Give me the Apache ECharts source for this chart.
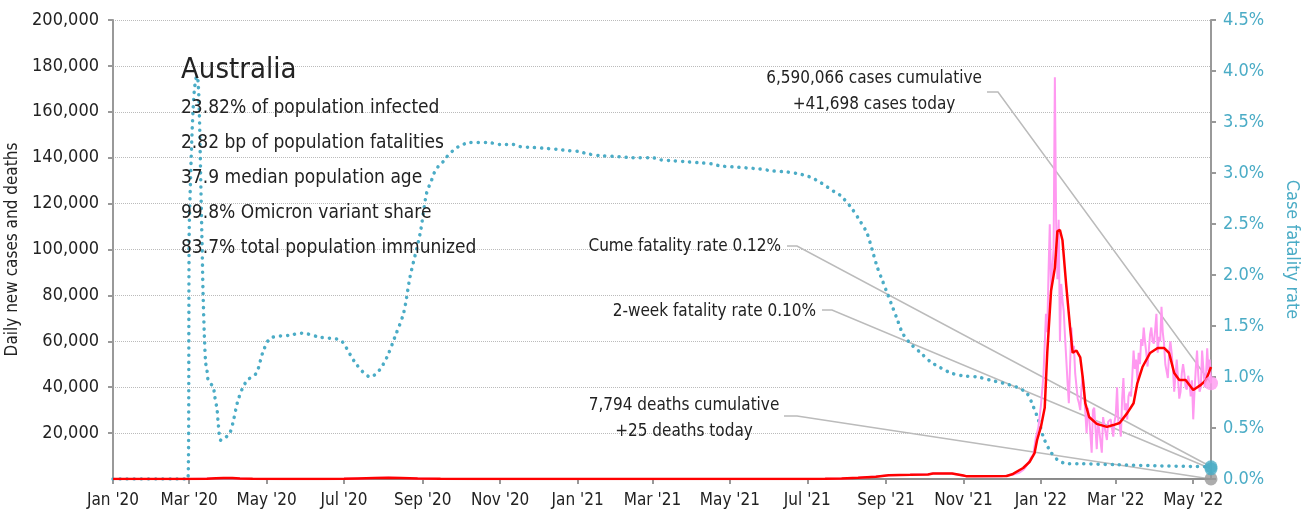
<!DOCTYPE html>
<html>
<head>
<meta charset="utf-8">
<script src="https://cdn.jsdelivr.net/npm/echarts@6/dist/echarts.min.js"></script>
<style>
  html, body { margin: 0; padding: 0; background: #fff; }
  #box { width: 1306px; height: 518px; }
</style>
</head>
<body>
<div id="box"></div>
<script>
// readings, [date, value]
var casesDaily = [
  ['2020-01-01', 0], ['2020-03-01', 5], ['2020-03-15', 200], ['2020-03-22', 380], ['2020-03-28', 450],
  ['2020-04-04', 380], ['2020-04-10', 230], ['2020-04-20', 50], ['2020-05-15', 15], ['2020-06-15', 15],
  ['2020-07-01', 70], ['2020-07-12', 270], ['2020-07-25', 480], ['2020-08-05', 520], ['2020-08-15', 400],
  ['2020-08-28', 180], ['2020-09-15', 50], ['2020-10-15', 15], ['2021-01-01', 20], ['2021-04-01', 10],
  ['2021-06-25', 25], ['2021-07-15', 110], ['2021-07-28', 260], ['2021-08-10', 520], ['2021-08-24', 1050],
  ['2021-09-03', 1650], ['2021-09-20', 1850], ['2021-10-04', 2050], ['2021-10-08', 2450], ['2021-10-23', 2350],
  ['2021-11-01', 1450], ['2021-11-10', 1250], ['2021-12-01', 1250], ['2021-12-06', 1500], ['2021-12-10', 1900],
  ['2021-12-15', 2700], ['2021-12-18', 3900], ['2021-12-20', 5200], ['2021-12-22', 6900], ['2021-12-24', 9200],
  ['2021-12-26', 10500], ['2021-12-28', 18000], ['2021-12-30', 22500], ['2022-01-01', 32000], ['2022-01-03', 45000],
  ['2022-01-05', 72000], ['2022-01-06', 64000], ['2022-01-07', 90000], ['2022-01-08', 111000], ['2022-01-09', 82000],
  ['2022-01-10', 92000], ['2022-01-11', 100000], ['2022-01-12', 175000], ['2022-01-13', 112000], ['2022-01-14', 87000],
  ['2022-01-15', 113000], ['2022-01-16', 60000], ['2022-01-17', 85000], ['2022-01-18', 78000], ['2022-01-19', 73000],
  ['2022-01-20', 62000], ['2022-01-21', 52000], ['2022-01-22', 42000], ['2022-01-23', 33000], ['2022-01-24', 50000],
  ['2022-01-25', 66000], ['2022-01-26', 57000], ['2022-01-27', 58000], ['2022-01-28', 46000], ['2022-01-29', 46000],
  ['2022-01-30', 35000], ['2022-01-31', 33000], ['2022-02-01', 30000], ['2022-02-02', 40000], ['2022-02-03', 45000],
  ['2022-02-04', 38000], ['2022-02-06', 20000], ['2022-02-07', 31000], ['2022-02-08', 27000], ['2022-02-10', 11500],
  ['2022-02-11', 30000], ['2022-02-12', 31000], ['2022-02-13', 22000], ['2022-02-14', 13000], ['2022-02-15', 25000],
  ['2022-02-16', 21000], ['2022-02-18', 11500], ['2022-02-19', 27000], ['2022-02-20', 27000], ['2022-02-21', 20000],
  ['2022-02-22', 17000], ['2022-02-23', 25000], ['2022-02-25', 26000], ['2022-02-26', 22000], ['2022-02-27', 18500],
  ['2022-02-28', 25000], ['2022-03-01', 28000], ['2022-03-02', 40000], ['2022-03-03', 25000], ['2022-03-04', 24000],
  ['2022-03-05', 18500], ['2022-03-06', 35000], ['2022-03-07', 44000], ['2022-03-08', 30000], ['2022-03-09', 33000],
  ['2022-03-10', 26000], ['2022-03-11', 36000], ['2022-03-12', 38000], ['2022-03-13', 36000], ['2022-03-14', 45000],
  ['2022-03-15', 56000], ['2022-03-16', 48000], ['2022-03-17', 52000], ['2022-03-18', 43000], ['2022-03-19', 55000],
  ['2022-03-20', 50000], ['2022-03-21', 61000], ['2022-03-22', 58000], ['2022-03-23', 66000], ['2022-03-24', 60000],
  ['2022-03-25', 55000], ['2022-03-26', 49000], ['2022-03-27', 56000], ['2022-03-28', 63000], ['2022-03-29', 66000],
  ['2022-03-30', 60000], ['2022-03-31', 59000], ['2022-04-01', 65000], ['2022-04-02', 72000], ['2022-04-03', 55000],
  ['2022-04-04', 62000], ['2022-04-05', 60000], ['2022-04-06', 75000], ['2022-04-07', 64000], ['2022-04-08', 59000],
  ['2022-04-09', 50000], ['2022-04-10', 47000], ['2022-04-11', 44000], ['2022-04-12', 55000], ['2022-04-13', 60000],
  ['2022-04-14', 55000], ['2022-04-15', 48000], ['2022-04-16', 38000], ['2022-04-17', 45000], ['2022-04-18', 52000],
  ['2022-04-19', 44000], ['2022-04-20', 35000], ['2022-04-21', 38000], ['2022-04-22', 46000], ['2022-04-23', 50000],
  ['2022-04-24', 46000], ['2022-04-25', 40000], ['2022-04-26', 39000], ['2022-04-27', 45000], ['2022-04-28', 42000],
  ['2022-04-29', 36000], ['2022-04-30', 43000], ['2022-05-01', 26000], ['2022-05-02', 38000], ['2022-05-03', 48000],
  ['2022-05-04', 56000], ['2022-05-05', 45000], ['2022-05-06', 38000], ['2022-05-07', 40000], ['2022-05-08', 56000],
  ['2022-05-09', 48000], ['2022-05-10', 40000], ['2022-05-11', 44000], ['2022-05-12', 57000], ['2022-05-13', 47000],
  ['2022-05-14', 52000], ['2022-05-15', 41698]
];

var casesAvg = [
  ['2020-01-01', 0], ['2020-03-01', 5], ['2020-03-15', 150], ['2020-03-22', 350], ['2020-03-28', 420],
  ['2020-04-04', 400], ['2020-04-10', 250], ['2020-04-20', 60], ['2020-05-15', 15], ['2020-06-15', 15],
  ['2020-07-01', 60], ['2020-07-12', 250], ['2020-07-25', 450], ['2020-08-05', 500], ['2020-08-15', 420],
  ['2020-08-28', 200], ['2020-09-15', 60], ['2020-10-15', 15], ['2021-01-01', 20], ['2021-04-01', 10],
  ['2021-06-25', 25], ['2021-07-15', 100], ['2021-07-28', 250], ['2021-08-10', 500], ['2021-08-24', 1000],
  ['2021-09-03', 1600], ['2021-09-20', 1800], ['2021-10-04', 2000], ['2021-10-08', 2400], ['2021-10-23', 2400],
  ['2021-11-01', 1500], ['2021-11-03', 1250], ['2021-12-05', 1300], ['2021-12-10', 2200], ['2021-12-18', 4800],
  ['2021-12-23', 7400], ['2021-12-27', 11300], ['2021-12-29', 17000], ['2022-01-01', 22700], ['2022-01-04', 31000],
  ['2022-01-06', 55000], ['2022-01-09', 82000], ['2022-01-12', 92000], ['2022-01-14', 108000], ['2022-01-16', 108500],
  ['2022-01-18', 104000], ['2022-01-21', 84000], ['2022-01-24', 66000], ['2022-01-26', 55000], ['2022-01-29', 56000],
  ['2022-02-01', 53000], ['2022-02-03', 44000], ['2022-02-05', 33000], ['2022-02-08', 27000], ['2022-02-14', 24000],
  ['2022-02-22', 22700], ['2022-02-27', 23500], ['2022-03-04', 24400], ['2022-03-10', 28700], ['2022-03-15', 33000],
  ['2022-03-18', 41800], ['2022-03-22', 48800], ['2022-03-28', 54900], ['2022-04-03', 57100], ['2022-04-08', 57100],
  ['2022-04-12', 54900], ['2022-04-16', 46200], ['2022-04-20', 43100], ['2022-04-25', 43100], ['2022-05-01', 38800],
  ['2022-05-07', 41000], ['2022-05-11', 43100], ['2022-05-15', 48800]
];

var deathsDaily = [
  ['2020-01-01', 0], ['2020-04-01', 3], ['2020-08-10', 15], ['2020-09-01', 12], ['2020-10-15', 1],
  ['2021-06-30', 0], ['2021-09-15', 12], ['2021-10-15', 14], ['2021-12-01', 2], ['2022-01-20', 75],
  ['2022-02-10', 45], ['2022-03-10', 25], ['2022-04-15', 35], ['2022-05-15', 25]
];

// cumulative case fatality rate, %
var cfr = [
  ['2020-01-01', 0], ['2020-02-29', 0], ['2020-03-01', 2.4], ['2020-03-02', 2.9], ['2020-03-03', 3.3],
  ['2020-03-04', 3.6], ['2020-03-05', 3.8], ['2020-03-06', 3.9], ['2020-03-07', 3.95], ['2020-03-08', 3.9],
  ['2020-03-09', 3.6], ['2020-03-10', 3.0], ['2020-03-11', 2.4], ['2020-03-12', 1.8], ['2020-03-13', 1.4],
  ['2020-03-14', 1.14], ['2020-03-15', 1.07], ['2020-03-16', 0.97], ['2020-03-20', 0.90], ['2020-03-21', 0.82],
  ['2020-03-23', 0.68], ['2020-03-24', 0.53], ['2020-03-26', 0.38], ['2020-03-29', 0.40], ['2020-04-02', 0.45],
  ['2020-04-05', 0.58], ['2020-04-08', 0.75], ['2020-04-12', 0.89], ['2020-04-16', 0.97], ['2020-04-23', 1.04],
  ['2020-04-28', 1.24], ['2020-05-04', 1.38], ['2020-05-19', 1.41], ['2020-05-29', 1.43], ['2020-06-12', 1.39],
  ['2020-06-26', 1.37], ['2020-06-30', 1.34], ['2020-07-11', 1.12], ['2020-07-22', 1.00], ['2020-07-29', 1.07],
  ['2020-08-04', 1.20], ['2020-08-10', 1.39], ['2020-08-17', 1.63], ['2020-08-22', 1.98], ['2020-08-30', 2.41],
  ['2020-09-04', 2.80], ['2020-09-08', 2.93], ['2020-09-10', 3.00], ['2020-09-13', 3.06], ['2020-09-17', 3.11],
  ['2020-09-20', 3.16], ['2020-09-24', 3.21], ['2020-09-28', 3.25], ['2020-10-03', 3.28], ['2020-10-07', 3.30],
  ['2020-10-22', 3.30], ['2020-11-01', 3.28], ['2020-11-11', 3.28], ['2020-11-16', 3.26], ['2020-11-27', 3.25],
  ['2020-12-08', 3.24], ['2020-12-18', 3.23], ['2020-12-24', 3.22], ['2021-01-03', 3.21], ['2021-01-08', 3.19],
  ['2021-01-19', 3.17], ['2021-02-03', 3.16], ['2021-02-13', 3.15], ['2021-03-01', 3.15], ['2021-03-07', 3.13],
  ['2021-03-17', 3.12], ['2021-03-28', 3.11], ['2021-04-07', 3.10], ['2021-04-17', 3.09], ['2021-04-23', 3.07],
  ['2021-05-03', 3.06], ['2021-05-14', 3.05], ['2021-05-24', 3.04], ['2021-06-04', 3.02], ['2021-06-15', 3.01],
  ['2021-06-25', 2.99], ['2021-07-01', 2.97], ['2021-07-05', 2.95], ['2021-07-11', 2.91], ['2021-07-17', 2.86],
  ['2021-07-23', 2.81], ['2021-07-27', 2.78], ['2021-08-04', 2.67], ['2021-08-12', 2.52], ['2021-08-17', 2.41],
  ['2021-08-21', 2.25], ['2021-08-25', 2.08], ['2021-08-29', 1.95], ['2021-09-02', 1.82], ['2021-09-06', 1.69],
  ['2021-09-10', 1.56], ['2021-09-14', 1.43], ['2021-09-20', 1.33], ['2021-09-28', 1.24], ['2021-10-06', 1.15],
  ['2021-10-14', 1.09], ['2021-10-22', 1.04], ['2021-11-01', 1.01], ['2021-11-12', 1.00], ['2021-11-22', 0.97],
  ['2021-12-02', 0.94], ['2021-12-13', 0.90], ['2021-12-21', 0.84], ['2021-12-26', 0.71], ['2021-12-30', 0.58],
  ['2022-01-03', 0.41], ['2022-01-08', 0.28], ['2022-01-14', 0.19], ['2022-01-22', 0.15], ['2022-01-30', 0.15],
  ['2022-03-01', 0.14], ['2022-04-01', 0.13], ['2022-05-15', 0.12]
];

var cfr2week = 0.10;
var lastDay = '2022-05-15';
var tickMonths = ['Jan', 'Mar', 'May', 'Jul', 'Sep', 'Nov'];
var monthNames = ['Jan', 'Feb', 'Mar', 'Apr', 'May', 'Jun', 'Jul', 'Aug', 'Sep', 'Oct', 'Nov', 'Dec'];

var statLines = [
  '23.82% of population infected',
  '2.82 bp of population fatalities',
  '37.9 median population age',
  '99.8% Omicron variant share',
  '83.7% total population immunized'
];

// daily categories
var days = [];
for (var t = Date.UTC(2020, 0, 1); t <= Date.UTC(2022, 4, 15); t += 86400000) {
  days.push(new Date(t).toISOString().slice(0, 10));
}

var FONT = "'Liberation Sans Narrow', 'DejaVu Sans Condensed', 'Roboto', sans-serif";
var TEAL = '#4bacc6';

function isTick(idx, val) {
  var m = monthNames[parseInt(val.slice(5, 7), 10) - 1];
  return val.slice(8) === '01' && tickMonths.indexOf(m) >= 0;
}

var myChart = echarts.init(document.getElementById('box'));
var option = {
  animation: false,
  textStyle: { fontFamily: FONT },
  grid: { left: 113, right: 95, top: 20, bottom: 39, outerBoundsMode: 'none' },
  xAxis: {
    type: 'category',
    data: days,
    boundaryGap: false,
    axisLine: { lineStyle: { color: '#999', width: 2 } },
    axisTick: { interval: isTick, length: 5, lineStyle: { color: '#999', width: 2 } },
    axisLabel: {
      interval: isTick,
      color: '#222',
      fontSize: 17,
      fontFamily: FONT,
      margin: 13,
      formatter: function (val) {
        return monthNames[parseInt(val.slice(5, 7), 10) - 1] + " '" + val.slice(2, 4);
      }
    },
    splitLine: { show: false }
  },
  yAxis: [
    {
      type: 'value',
      min: 0,
      max: 200000,
      interval: 20000,
      name: 'Daily new cases and deaths',
      nameLocation: 'middle',
      nameGap: 90,
      nameTextStyle: { color: '#222', fontSize: 17, fontFamily: FONT },
      axisLine: { show: true, lineStyle: { color: '#999', width: 2 } },
      axisTick: { show: true, length: 5, lineStyle: { color: '#999', width: 2 } },
      axisLabel: {
        showMinLabel: false,
        color: '#222',
        fontSize: 18,
        fontFamily: FONT,
        margin: 14,
        formatter: function (v) { return v.toLocaleString('en-US'); }
      },
      splitLine: { lineStyle: { color: '#bbb', type: 'dotted', width: 1 } }
    },
    {
      type: 'value',
      min: 0,
      max: 4.5,
      interval: 0.5,
      position: 'right',
      name: 'Case fatality rate',
      nameLocation: 'middle',
      nameGap: 72,
      nameRotate: -90,
      nameTextStyle: { color: TEAL, fontSize: 18, fontFamily: FONT },
      axisLine: { show: true, lineStyle: { color: '#999', width: 2 } },
      axisTick: { show: true, length: 5, lineStyle: { color: '#999', width: 2 } },
      axisLabel: {
        color: TEAL,
        fontSize: 18,
        fontFamily: FONT,
        margin: 12,
        formatter: function (v) { return v.toFixed(1) + '%'; }
      },
      splitLine: { show: false }
    }
  ],
  series: [
    {
      name: 'cfr',
      type: 'line',
      yAxisIndex: 1,
      data: cfr,
      showSymbol: false,
      smooth: 0.3,
      lineStyle: { color: TEAL, width: 3.5, type: [0.1, 7], cap: 'round' },
      z: 2
    },
    {
      name: 'deaths',
      type: 'line',
      data: deathsDaily,
      showSymbol: false,
      lineStyle: { color: '#888', width: 1.5 },
      z: 3
    },
    {
      name: 'cases',
      type: 'line',
      data: casesDaily,
      showSymbol: false,
      lineStyle: { color: '#ff99f0', width: 2 },
      z: 4
    },
    {
      name: 'cases avg',
      type: 'line',
      data: casesAvg,
      showSymbol: false,
      lineStyle: { color: '#ff0000', width: 2.5 },
      z: 5
    },
    {
      type: 'scatter',
      data: [[lastDay, deathsDaily[deathsDaily.length - 1][1]]],
      symbolSize: 13,
      itemStyle: { color: '#999' },
      clip: false,
      z: 6
    },
    {
      type: 'scatter',
      yAxisIndex: 1,
      data: [[lastDay, cfr2week], [lastDay, cfr[cfr.length - 1][1]]],
      symbolSize: 13,
      itemStyle: { color: TEAL },
      clip: false,
      z: 7
    },
    {
      type: 'scatter',
      data: [[lastDay, casesDaily[casesDaily.length - 1][1]]],
      symbolSize: 14,
      itemStyle: { color: '#ff99f0' },
      clip: false,
      z: 8
    }
  ]
};
myChart.setOption(option);

// annotations, leader lines end on the markers
var lastIdx = days.length - 1;
var pCases = myChart.convertToPixel({ xAxisIndex: 0, yAxisIndex: 0 }, [lastIdx, casesDaily[casesDaily.length - 1][1]]);
var pDeaths = myChart.convertToPixel({ xAxisIndex: 0, yAxisIndex: 0 }, [lastIdx, deathsDaily[deathsDaily.length - 1][1]]);
var pCfr = myChart.convertToPixel({ xAxisIndex: 0, yAxisIndex: 1 }, [lastIdx, cfr[cfr.length - 1][1]]);
var pCfr2 = myChart.convertToPixel({ xAxisIndex: 0, yAxisIndex: 1 }, [lastIdx, cfr2week]);

function leader(x0, y0, x1, p) {
  return {
    type: 'polyline',
    shape: { points: [[x0, y0], [x1, y0], p] },
    style: { stroke: '#bbb', lineWidth: 1.5, fill: null },
    z: 1
  };
}
function label(text, x, y, align, size, lh) {
  return {
    type: 'text',
    x: x,
    y: y,
    style: {
      text: text,
      fill: '#222',
      font: size + 'px ' + FONT,
      align: align,
      verticalAlign: 'middle',
      lineHeight: lh || size
    },
    z: 10
  };
}

var graphics = [
  leader(987, 92, 998, pCases),
  leader(787, 246, 797, pCfr),
  leader(822, 310, 832, pCfr2),
  leader(784, 416, 797, pDeaths),
  label('6,590,066 cases cumulative\n+41,698 cases today', 874, 92, 'center', 17, 26),
  label('Cume fatality rate 0.12%', 781, 247, 'right', 17),
  label('2-week fatality rate 0.10%', 816, 312, 'right', 17),
  label('7,794 deaths cumulative\n+25 deaths today', 684, 419, 'center', 17, 26),
  label('Australia', 181, 70, 'left', 29),
  label(statLines.join('\n'), 181, 178, 'left', 19, 35)
];
myChart.setOption({ graphic: graphics });
</script>
</body>
</html>
